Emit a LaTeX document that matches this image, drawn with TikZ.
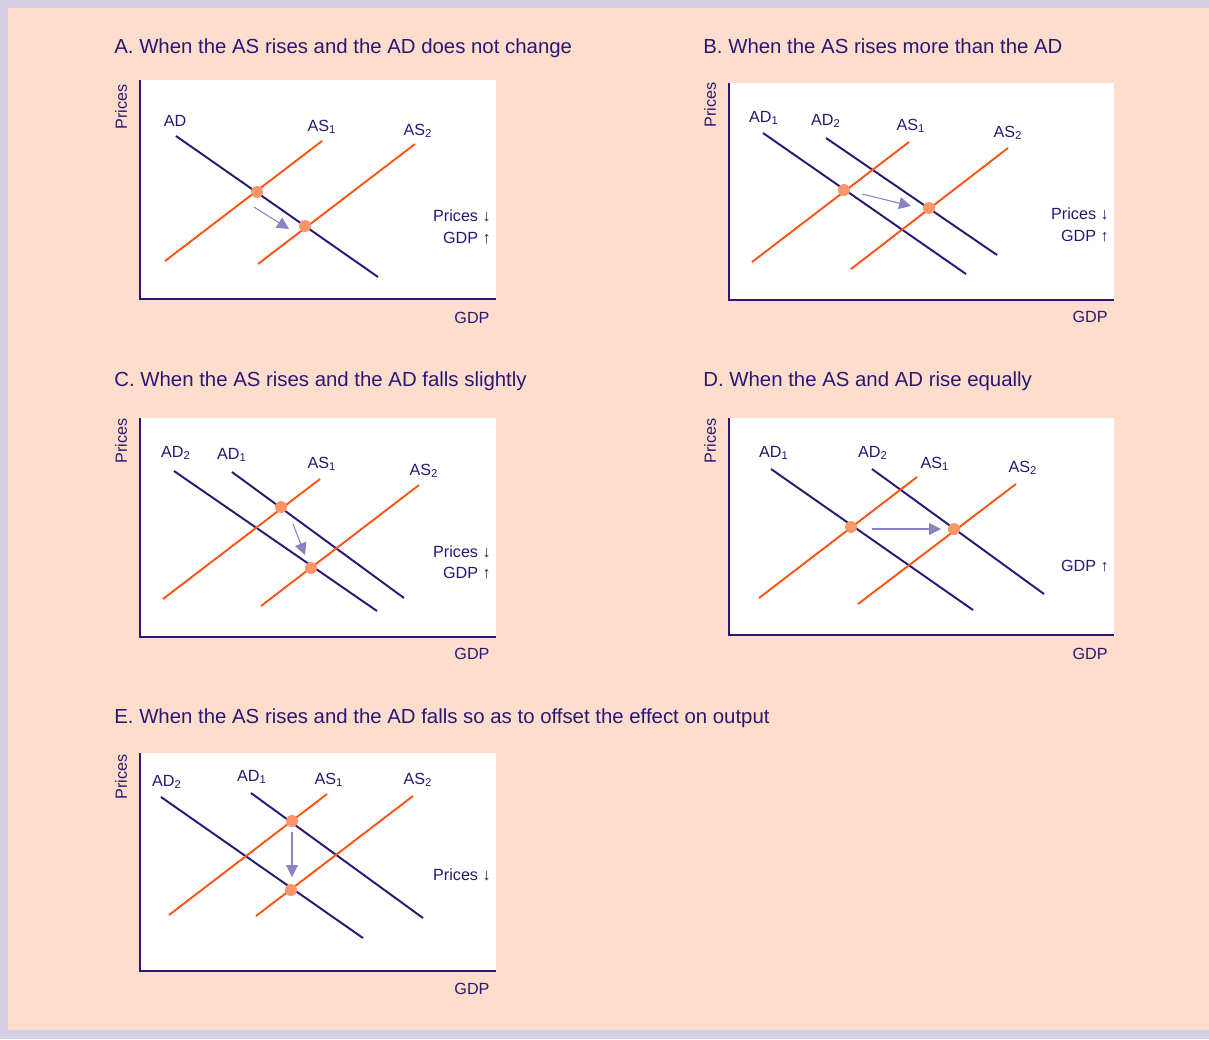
\documentclass[tikz,border=0pt]{standalone}
\usepackage{fontspec}
\setmainfont{Liberation Sans}
\usetikzlibrary{arrows.meta}
\definecolor{econnavy}{RGB}{40, 24, 115}
\definecolor{econorange}{RGB}{255, 85, 20}
\definecolor{econdot}{RGB}{250, 150, 105}
\definecolor{econarrow}{RGB}{140, 130, 195}
\definecolor{econpeach}{RGB}{255, 221, 205}
\definecolor{econlilac}{RGB}{213, 207, 230}
\tikzset{
  adcurve/.style={
    draw=econnavy,
    line width=1.1pt
  },
  ascurve/.style={
    draw=econorange,
    line width=1.1pt
  },
  eqdot/.style={
    circle,
    fill=econdot,
    minimum size=0.24cm,
    inner sep=0pt
  },
  shiftarrow/.style={
    -{Triangle[length=6.8pt,width=6.8pt]},
    draw=econarrow,
    fill=econarrow,
    line width=0.6pt
  },
  axisline/.style={
    draw=econnavy,
    line width=1.1pt
  },
  paneltitle/.style={
    anchor=base west,
    inner sep=0pt,
    font=\fontsize{11.6}{13}\selectfont\color{econnavy}
  },
  lbl/.style={
    inner sep=0pt,
    font=\fontsize{9.2}{11}\selectfont\color{econnavy}
  }
}

\begin{document}
\begin{tikzpicture}[x=0.02cm, y=-0.02cm]
  % page
  \fill[econlilac] (0,0) rectangle (1209,1039);
  \fill[econpeach] (8,8) rectangle (1209,1030);
  \useasboundingbox (0,0) rectangle (1209,1039);

  % ---------- A ----------
  \node[paneltitle] (aT) at (114,53) {A. When the AS rises and the AD does not change};
  \coordinate (aY) at (140,80);
  \coordinate (aO) at (140,299);
  \coordinate (aX) at (496,299);
  \fill[white] (aY) rectangle (aX);
  \draw[axisline] (aY) -- (aO) -- (aX);
  \node[lbl, rotate=90] (aPr) at (121,107) {Prices};
  \node[lbl] (aGdp) at (472,318) {GDP};
  \coordinate (aAD0) at (176,136);  \coordinate (aAD1) at (378,277);
  \coordinate (aAS10) at (165,261); \coordinate (aAS11) at (322,141);
  \coordinate (aAS20) at (258,264); \coordinate (aAS21) at (415,144);
  \draw[adcurve] (aAD0) -- (aAD1);
  \draw[ascurve] (aAS10) -- (aAS11);
  \draw[ascurve] (aAS20) -- (aAS21);
  \node[eqdot] (aE1) at (257,192) {};
  \node[eqdot] (aE2) at (305,226) {};
  \coordinate (aM0) at (254,207); \coordinate (aM1) at (289,229);
  \draw[shiftarrow] (aM0) -- (aM1);
  \node[lbl] (aLad) at (175,121) {AD};
  \node[lbl] (aLas1) at (322,127) {AS\textsubscript{1}};
  \node[lbl] (aLas2) at (418,131) {AS\textsubscript{2}};
  \node[lbl, anchor=base east] (aP) at (491,221) {Prices ↓};
  \node[lbl, anchor=base east] (aG) at (491,243) {GDP ↑};

  % ---------- B ----------
  \node[paneltitle] (bT) at (703,53) {B. When the AS rises more than the AD};
  \coordinate (bY) at (729,83);
  \coordinate (bO) at (729,300);
  \coordinate (bX) at (1114,300);
  \fill[white] (bY) rectangle (bX);
  \draw[axisline] (bY) -- (bO) -- (bX);
  \node[lbl, rotate=90] (bPr) at (710,105) {Prices};
  \node[lbl] (bGdp) at (1090,317) {GDP};
  \coordinate (bAD10) at (763,133); \coordinate (bAD11) at (966,274);
  \coordinate (bAD20) at (826,138); \coordinate (bAD21) at (997,255);
  \coordinate (bAS10) at (752,262); \coordinate (bAS11) at (909,142);
  \coordinate (bAS20) at (851,269); \coordinate (bAS21) at (1008,148);
  \draw[adcurve] (bAD10) -- (bAD11);
  \draw[adcurve] (bAD20) -- (bAD21);
  \draw[ascurve] (bAS10) -- (bAS11);
  \draw[ascurve] (bAS20) -- (bAS21);
  \node[eqdot] (bE1) at (844,190) {};
  \node[eqdot] (bE2) at (929,208) {};
  \coordinate (bM0) at (862,194); \coordinate (bM1) at (911,206);
  \draw[shiftarrow] (bM0) -- (bM1);
  \node[lbl] (bLad1) at (764,118) {AD\textsubscript{1}};
  \node[lbl] (bLad2) at (826,121) {AD\textsubscript{2}};
  \node[lbl] (bLas1) at (911,126) {AS\textsubscript{1}};
  \node[lbl] (bLas2) at (1008,133) {AS\textsubscript{2}};
  \node[lbl, anchor=base east] (bP) at (1109,219) {Prices ↓};
  \node[lbl, anchor=base east] (bG) at (1109,241) {GDP ↑};

  % ---------- C ----------
  \node[paneltitle] (cT) at (114,386) {C. When the AS rises and the AD falls slightly};
  \coordinate (cY) at (140,418);
  \coordinate (cO) at (140,637);
  \coordinate (cX) at (496,637);
  \fill[white] (cY) rectangle (cX);
  \draw[axisline] (cY) -- (cO) -- (cX);
  \node[lbl, rotate=90] (cPr) at (121,441) {Prices};
  \node[lbl] (cGdp) at (472,654) {GDP};
  \coordinate (cAD20) at (174,471); \coordinate (cAD21) at (377,611);
  \coordinate (cAD10) at (232,472); \coordinate (cAD11) at (404,598);
  \coordinate (cAS10) at (163,599); \coordinate (cAS11) at (320,479);
  \coordinate (cAS20) at (261,606); \coordinate (cAS21) at (419,485);
  \draw[adcurve] (cAD20) -- (cAD21);
  \draw[adcurve] (cAD10) -- (cAD11);
  \draw[ascurve] (cAS10) -- (cAS11);
  \draw[ascurve] (cAS20) -- (cAS21);
  \node[eqdot] (cE1) at (281,507) {};
  \node[eqdot] (cE2) at (311,568) {};
  \coordinate (cM0) at (293,524); \coordinate (cM1) at (305,555);
  \draw[shiftarrow] (cM0) -- (cM1);
  \node[lbl] (cLad2) at (176,453) {AD\textsubscript{2}};
  \node[lbl] (cLad1) at (232,455) {AD\textsubscript{1}};
  \node[lbl] (cLas1) at (322,464) {AS\textsubscript{1}};
  \node[lbl] (cLas2) at (424,471) {AS\textsubscript{2}};
  \node[lbl, anchor=base east] (cP) at (491,557) {Prices ↓};
  \node[lbl, anchor=base east] (cG) at (491,578) {GDP ↑};

  % ---------- D ----------
  \node[paneltitle] (dT) at (703,386) {D. When the AS and AD rise equally};
  \coordinate (dY) at (729,418);
  \coordinate (dO) at (729,635);
  \coordinate (dX) at (1114,635);
  \fill[white] (dY) rectangle (dX);
  \draw[axisline] (dY) -- (dO) -- (dX);
  \node[lbl, rotate=90] (dPr) at (710,441) {Prices};
  \node[lbl] (dGdp) at (1090,654) {GDP};
  \coordinate (dAD10) at (771,469); \coordinate (dAD11) at (973,610);
  \coordinate (dAD20) at (872,469); \coordinate (dAD21) at (1044,594);
  \coordinate (dAS10) at (759,598); \coordinate (dAS11) at (917,477);
  \coordinate (dAS20) at (858,604); \coordinate (dAS21) at (1016,484);
  \draw[adcurve] (dAD10) -- (dAD11);
  \draw[adcurve] (dAD20) -- (dAD21);
  \draw[ascurve] (dAS10) -- (dAS11);
  \draw[ascurve] (dAS20) -- (dAS21);
  \node[eqdot] (dE1) at (851,527) {};
  \node[eqdot] (dE2) at (954,529) {};
  \coordinate (dM0) at (872,529); \coordinate (dM1) at (941,529);
  \draw[shiftarrow] (dM0) -- (dM1);
  \node[lbl] (dLad1) at (774,453) {AD\textsubscript{1}};
  \node[lbl] (dLad2) at (873,453) {AD\textsubscript{2}};
  \node[lbl] (dLas1) at (935,464) {AS\textsubscript{1}};
  \node[lbl] (dLas2) at (1023,468) {AS\textsubscript{2}};
  \node[lbl, anchor=base east] (dG) at (1109,571) {GDP ↑};

  % ---------- E ----------
  \node[paneltitle] (eT) at (114,723) {E. When the AS rises and the AD falls so as to offset the effect on output};
  \coordinate (eY) at (140,753);
  \coordinate (eO) at (140,971);
  \coordinate (eX) at (496,971);
  \fill[white] (eY) rectangle (eX);
  \draw[axisline] (eY) -- (eO) -- (eX);
  \node[lbl, rotate=90] (ePr) at (121,777) {Prices};
  \node[lbl] (eGdp) at (472,989) {GDP};
  \coordinate (eAD20) at (161,797); \coordinate (eAD21) at (363,938);
  \coordinate (eAD10) at (251,793); \coordinate (eAD11) at (423,918);
  \coordinate (eAS10) at (169,915); \coordinate (eAS11) at (327,794);
  \coordinate (eAS20) at (256,916); \coordinate (eAS21) at (413,796);
  \draw[adcurve] (eAD20) -- (eAD21);
  \draw[adcurve] (eAD10) -- (eAD11);
  \draw[ascurve] (eAS10) -- (eAS11);
  \draw[ascurve] (eAS20) -- (eAS21);
  \node[eqdot] (eE1) at (292,821) {};
  \node[eqdot] (eE2) at (291,890) {};
  \coordinate (eM0) at (292,832); \coordinate (eM1) at (292,877);
  \draw[shiftarrow] (eM0) -- (eM1);
  \node[lbl] (eLad2) at (167,782) {AD\textsubscript{2}};
  \node[lbl] (eLad1) at (252,777) {AD\textsubscript{1}};
  \node[lbl] (eLas1) at (329,780) {AS\textsubscript{1}};
  \node[lbl] (eLas2) at (418,780) {AS\textsubscript{2}};
  \node[lbl, anchor=base east] (eP) at (491,880) {Prices ↓};
\end{tikzpicture}
\end{document}
